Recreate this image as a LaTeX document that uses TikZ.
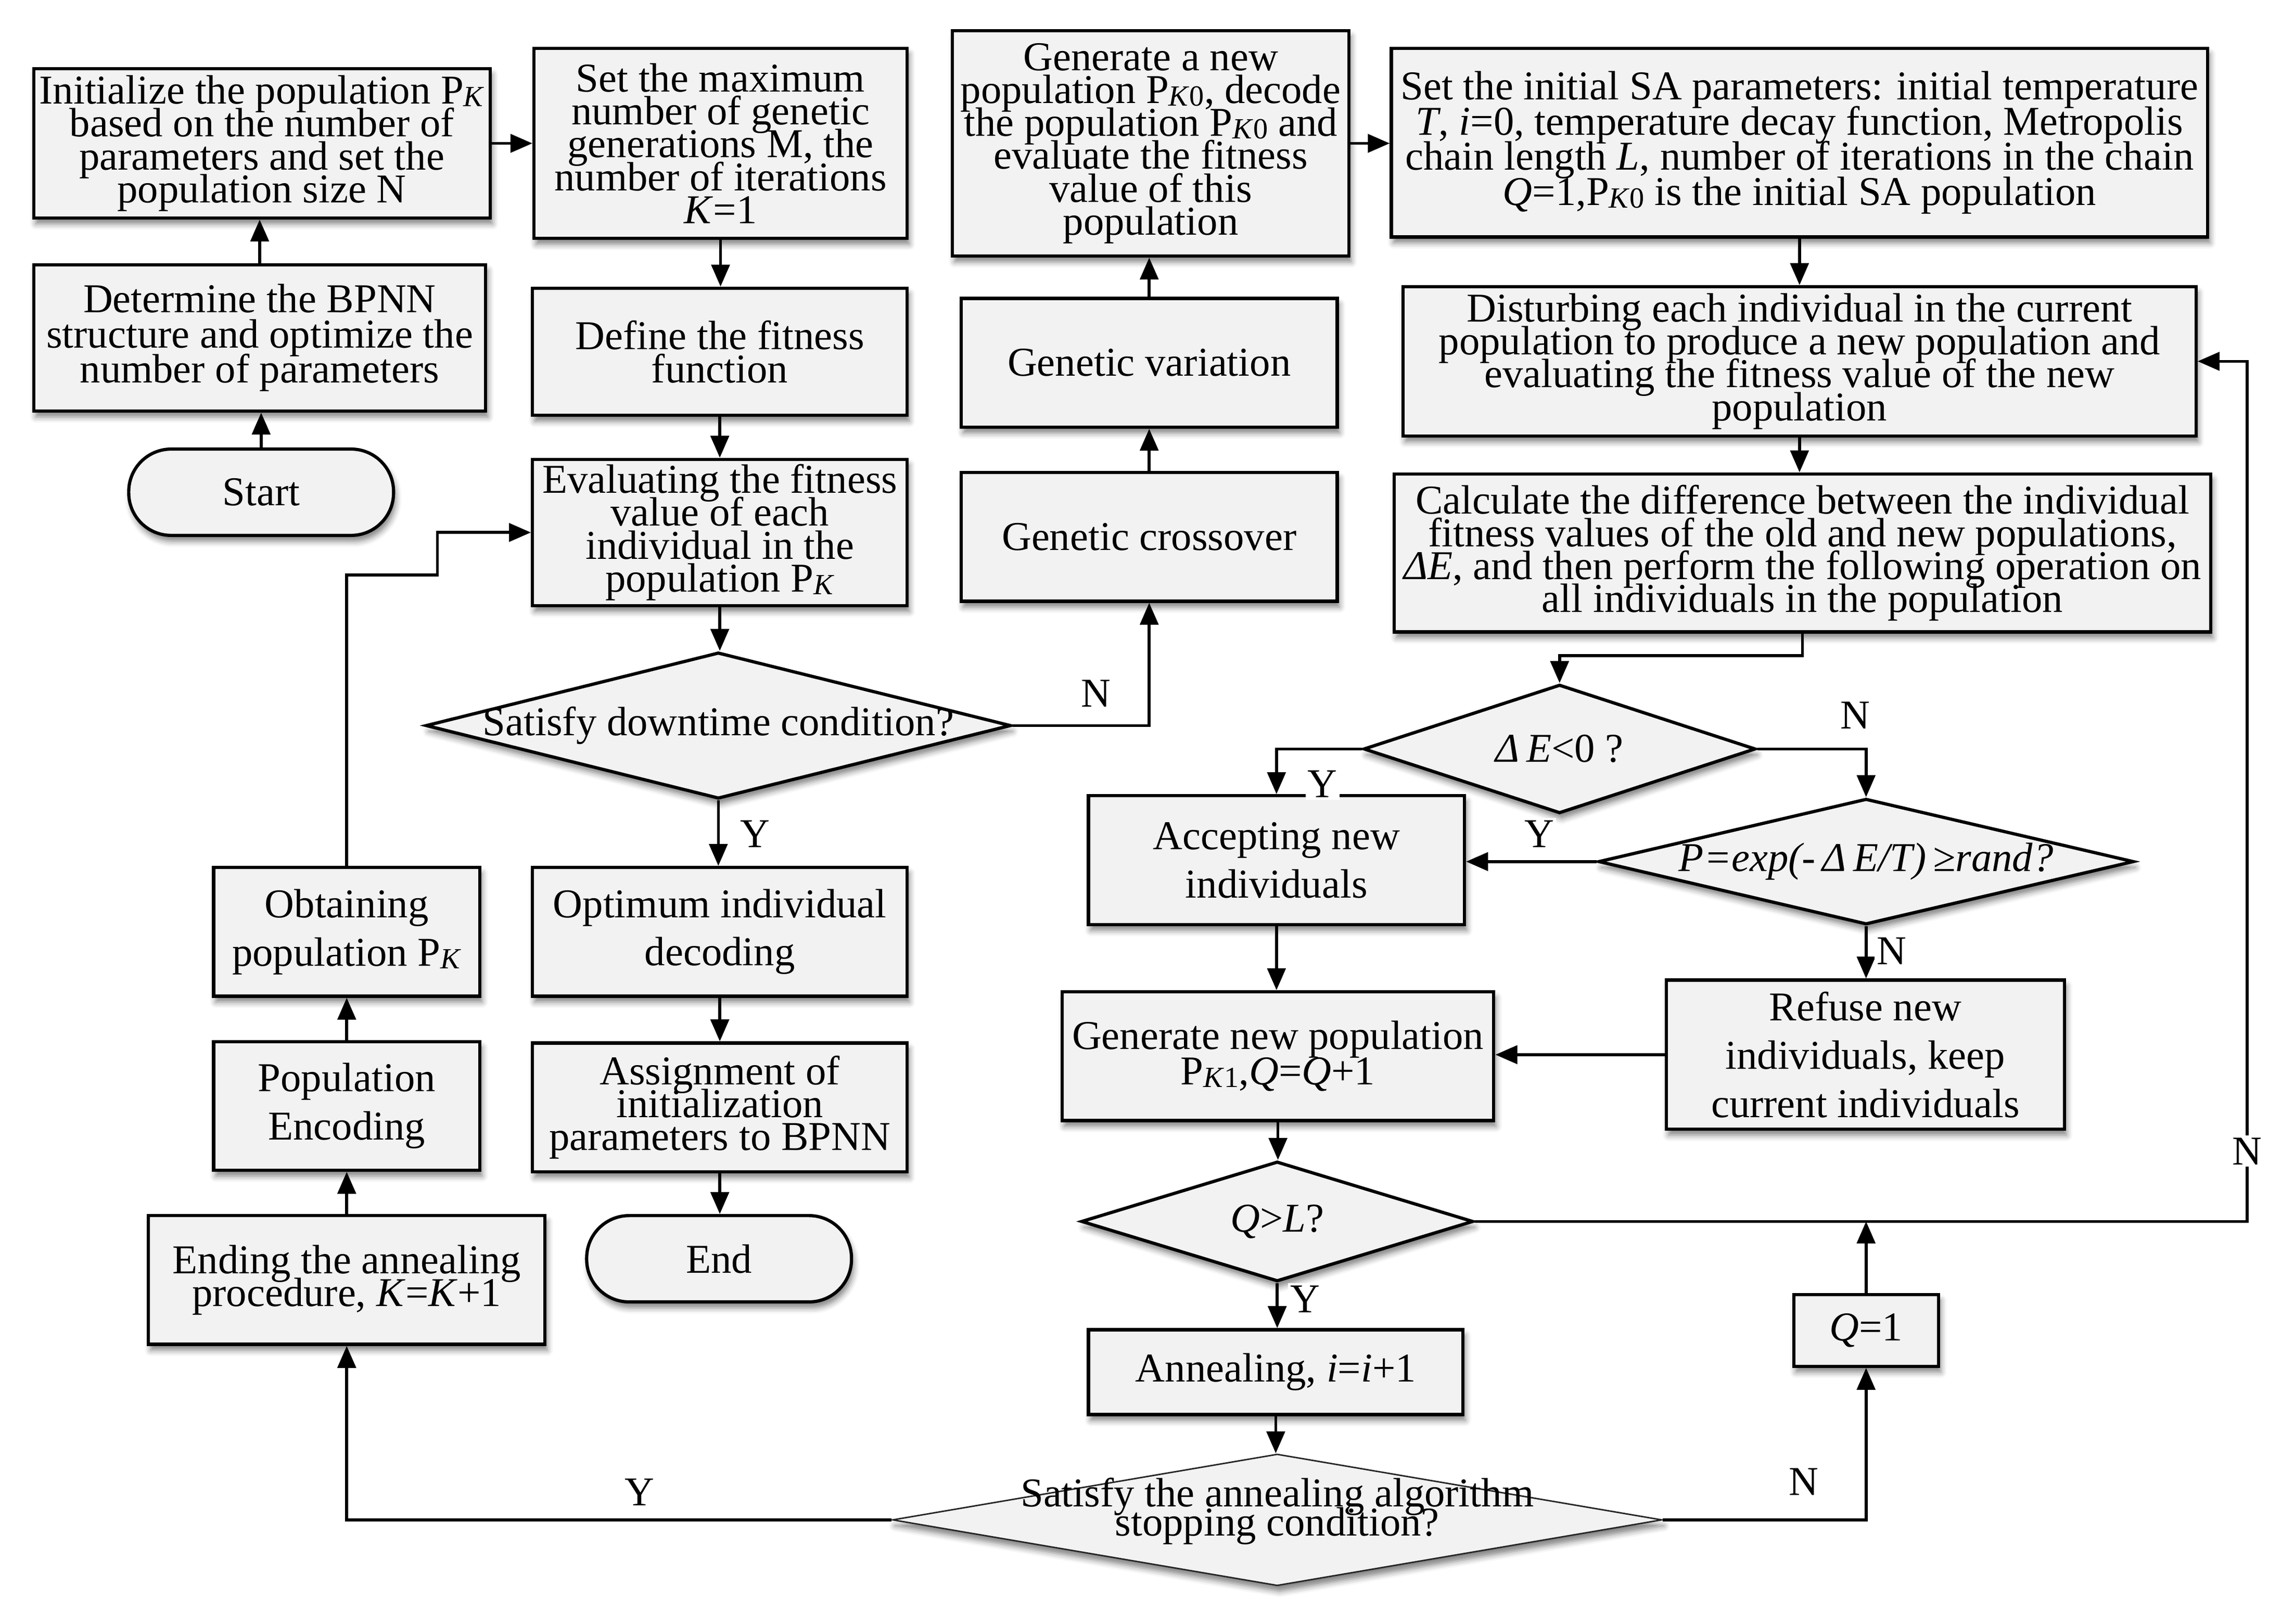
\documentclass[tikz,border=0pt]{standalone}
\usepackage{fontspec}
\setmainfont{Liberation Serif}
\usetikzlibrary{shapes.geometric,arrows.meta,shadows.blur}
\definecolor{boxfill}{HTML}{F2F2F2}
\newcommand\fsA{\fontsize{28}{22.5}\selectfont\lineskiplimit=-100pt\lineskip=0pt}
\newcommand\fsB{\fontsize{28}{24}\selectfont\lineskiplimit=-100pt\lineskip=0pt}
\newcommand\fsC{\fontsize{28}{33}\selectfont\lineskiplimit=-100pt\lineskip=0pt}
\newcommand\fsD{\fontsize{28}{20}\selectfont\lineskiplimit=-100pt\lineskip=0pt}
\newcommand\Ps[1]{P\raisebox{-0.15ex}{\fontsize{20}{20}\selectfont #1}}
\begin{document}
\begin{tikzpicture}[x=1pt,y=-1pt,
  shd/.style={blur shadow={shadow xshift=1.5pt,shadow yshift=-4pt,shadow blur radius=4pt,shadow opacity=50}},
  box/.style={draw,line width=2.2pt,fill=boxfill,rectangle,inner sep=0pt,align=center,shd,font=\fsA},
  boxB/.style={box,font=\fsB},
  boxC/.style={box,font=\fsC},
  term/.style={box,rounded corners=29pt},
  dia/.style={draw,line width=2.2pt,fill=boxfill,diamond,inner sep=0pt,shd},
  diathin/.style={draw=black!85,line width=1pt,fill=boxfill,diamond,inner sep=0pt,shd},
  txt/.style={align=center,inner sep=0pt,font=\fsA},
  arr/.style={line width=2pt,-{Triangle[length=15pt,width=12.5pt]}},
  lab/.style={font=\fontsize{28}{28}\selectfont,inner sep=1.5pt,fill=white}
]
\useasboundingbox (0,0) rectangle (1568,1110);

% ---------- left column ----------
\node[box,minimum width=312,minimum height=102] (A) at (179,98)
  {Initialize the population \Ps{\textit{K}}\\based on the number of\\parameters and set the\\population size N};
\node[boxB,minimum width=309,minimum height=100] (B) at (177.5,231)
  {Determine the BPNN\\structure and optimize the\\number of parameters};
\node[term,minimum width=181,minimum height=59] (Start) at (178.5,336.5) {Start};

% ---------- second column ----------
\node[box,minimum width=255,minimum height=130] (C) at (492.5,98)
  {Set the maximum\\number of genetic\\generations M, the\\number of iterations\\\textit{K}=1};
\node[box,minimum width=256,minimum height=87] (D) at (492,240.5)
  {Define the fitness\\function};
\node[box,minimum width=256,minimum height=100] (E) at (492,364)
  {Evaluating the fitness\\value of each\\individual in the\\population \Ps{\textit{K}}};
\node[dia,minimum width=400,minimum height=100] (F) at (491,496) {};
\node[txt] (Ft) at (F.center) {Satisfy downtime condition?};
\node[boxC,minimum width=256,minimum height=88] (G) at (492,637)
  {Optimum individual\\decoding};
\node[box,minimum width=256,minimum height=88] (H) at (492,757)
  {Assignment of\\initialization\\parameters to BPNN};
\node[term,minimum width=181,minimum height=59] (End) at (491.5,860.5) {End};

% ---------- third column ----------
\node[box,minimum width=271,minimum height=154] (I) at (786.5,98)
  {Generate a new\\population \Ps{\textit{K}0}, decode\\the population \Ps{\textit{K}0} and\\evaluate the fitness\\value of this\\population};
\node[box,minimum width=257,minimum height=88] (Var) at (785.5,248) {Genetic variation};
\node[box,minimum width=257,minimum height=88] (Cross) at (785.5,367) {Genetic crossover};

% ---------- right part ----------
\node[boxB,minimum width=558,minimum height=129] (K) at (1230,97.5)
  {Set the initial SA parameters: initial temperature\\\textit{T}, \textit{i}=0, temperature decay function, Metropolis\\chain length \textit{L}, number of iterations in the chain\\\textit{Q}=1,\Ps{\textit{K}0} is the initial SA population};
\node[box,minimum width=542,minimum height=102] (L) at (1230,247)
  {Disturbing each individual in the current\\population to produce a new population and\\evaluating the fitness value of the new\\population};
\node[box,minimum width=558,minimum height=108] (M) at (1232,378)
  {Calculate the difference between the individual\\fitness values of the old and new populations,\\\textit{ΔE}, and then perform the following operation on\\all individuals in the population};
\node[dia,minimum width=268,minimum height=88] (dE) at (1066,512) {};
\node[txt] (dEt) at (dE.center) {\textit{Δ\,E}<0 ?};
\node[dia,minimum width=366,minimum height=86] (Pd) at (1275.5,589) {};
\node[txt] (Pdt) at (Pd.center) {\textit{P=exp(-\,Δ\,E/T)\,≥rand?}};
\node[boxC,minimum width=257,minimum height=88] (Acc) at (872.5,588)
  {Accepting new\\individuals};
\node[boxC,minimum width=272,minimum height=102] (Ref) at (1275,721)
  {Refuse new\\individuals, keep\\current individuals};
\node[boxB,minimum width=295,minimum height=88] (Gen) at (873.5,722)
  {Generate new population\\\Ps{\textit{K}1},\textit{Q}=\textit{Q}+1};
\node[dia,minimum width=268,minimum height=82] (QL) at (873,835) {};
\node[txt] (QLt) at (QL.center) {\textit{Q}>\textit{L}?};
\node[box,minimum width=256,minimum height=58] (Ann) at (872,938) {Annealing, \textit{i}=\textit{i}+1};
\node[diathin,minimum width=526,minimum height=90] (S) at (873,1039) {};
\node[txt,font=\fsD] (St) at (873,1033) {Satisfy the annealing algorithm\\stopping condition?};
\node[box,minimum width=99,minimum height=49] (Q1) at (1275.5,909.5) {\textit{Q}=1};

% ---------- bottom left ----------
\node[box,minimum width=271,minimum height=88] (Ending) at (237,875)
  {Ending the annealing\\procedure, \textit{K}=\textit{K}+1};
\node[boxC,minimum width=182,minimum height=88] (Enc) at (237,756)
  {Population\\Encoding};
\node[boxC,minimum width=182,minimum height=88] (Obt) at (237,637)
  {Obtaining\\population \Ps{\textit{K}}};

\coordinate (j1) at (299,393);
\coordinate (rN) at (1536,835);

% ---------- connectors ----------
\draw[arr] (Start.north) -- (Start.north |- B.south);
\draw[arr] (B.north) -- (B.north |- A.south);
\draw[arr] (A.east) -- (A.east -| C.west);
\draw[arr] (C.south) -- (C.south |- D.north);
\draw[arr] (D.south) -- (D.south |- E.north);
\draw[arr] (E.south) -- (E.south |- F.north);
\draw[arr] (F.south) -- (F.south |- G.north);
\draw[arr] (G.south) -- (G.south |- H.north);
\draw[arr] (H.south) -- (H.south |- End.north);
\draw[arr] (F.east) -| (Cross.south);
\draw[arr] (Cross.north) -- (Cross.north |- Var.south);
\draw[arr] (Var.north) -- (Var.north |- I.south);
\draw[arr] (I.east) -- (I.east -| K.west);
\draw[arr] (K.south) -- (K.south |- L.north);
\draw[arr] (L.south) -- (L.south |- M.north);
\draw[arr] (M.south) -- ++(0,15) -| (dE.north);
\draw[arr] (dE.west) -| (Acc.north);
\draw[arr] (dE.east) -| (Pd.north);
\draw[arr] (Pd.west) -- (Pd.west -| Acc.east);
\draw[arr] (Pd.south) -- (Pd.south |- Ref.north);
\draw[arr] (Acc.south) -- (Acc.south |- Gen.north);
\draw[arr] (Ref.west) -- (Ref.west -| Gen.east);
\draw[arr] (Gen.south) -- (Gen.south |- QL.north);
\draw[arr] (QL.south) -- (QL.south |- Ann.north);
\draw[arr] (Ann.south) -- (Ann.south |- S.north);
\draw[arr] (QL.east) -- (rN) |- (L.east);
\draw[arr] (Q1.north) -- (Q1.north |- QL.east);
\draw[arr] (S.east) -| (Q1.south);
\draw[arr] (S.west) -| (Ending.south);
\draw[arr] (Ending.north) -- (Ending.north |- Enc.south);
\draw[arr] (Enc.north) -- (Enc.north |- Obt.south);
\draw[arr] (Obt.north) |- (j1) |- (E.west);

% ---------- labels ----------
\node[lab] (yF) at (516,570) {Y};
\node[lab] (nF) at (749,474) {N};
\node[lab] (yN) at (904,536) {Y};
\node[lab] (nN) at (1268,489) {N};
\node[lab] (yP) at (1052,570) {Y};
\node[lab] (nP) at (1293,650) {N};
\node[lab] (yQ) at (892,888) {Y};
\node[lab] (nQ) at (1536,787) {N};
\node[lab] (yS) at (437,1020) {Y};
\node[lab] (nS) at (1233,1013) {N};
\end{tikzpicture}
\end{document}
